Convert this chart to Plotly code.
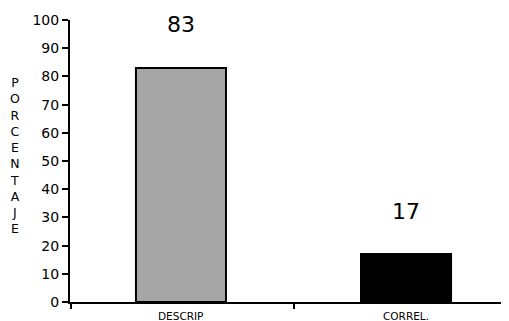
import plotly.graph_objects as go

categories = ["DESCRIP", "CORREL."]
values = [83, 17]
colors = ["#A6A6A6", "#000000"]
y_title = "PORCENTAJE"
y_ticks = list(range(0, 101, 10))

xpos = list(range(len(categories)))
FONT = "DejaVu Sans, Verdana, Arial"

fig = go.Figure()
fig.add_trace(go.Bar(
    x=xpos, y=values, width=0.4,
    marker=dict(color=colors, line=dict(color="#000000", width=2)),
    showlegend=False, hoverinfo="skip",
))

for i, (c, v) in enumerate(zip(categories, values)):
    fig.add_annotation(x=i, y=v, text=str(v), showarrow=False, yshift=43,
                       yanchor="middle",
                       font=dict(size=22, color="#000000", family=FONT))
    fig.add_annotation(x=i, y=0, text=c, showarrow=False, yshift=-14,
                       yanchor="middle",
                       font=dict(size=10.5, color="#000000", family=FONT))

fig.add_annotation(xref="paper", yref="paper", x=-0.1256, y=0.518,
                   text="<br>".join(list(y_title)), showarrow=False,
                   xanchor="center", yanchor="middle", align="center",
                   font=dict(size=12.5, color="#000000", family=FONT))

# page body has an 8px margin, so the figure is shrunk by 8px to fit the window
fig.update_layout(
    width=501, height=313,
    margin=dict(l=62, r=1, t=12, b=19),
    paper_bgcolor="white", plot_bgcolor="white",
    font=dict(family=FONT, color="#000000"),
    xaxis=dict(range=[-0.493, 1.453], tickvals=[-0.49, 0.5], ticktext=["", ""],
               ticks="outside", ticklen=5, tickwidth=2, tickcolor="#000000",
               showline=True, linecolor="#000000", linewidth=2,
               showgrid=False, zeroline=False, fixedrange=True),
    yaxis=dict(range=[0, 100], tickvals=y_ticks,
               ticks="outside", ticklen=6, tickwidth=2, tickcolor="#000000",
               showline=True, linecolor="#000000", linewidth=2,
               showgrid=False, zeroline=False,
               tickfont=dict(size=14, color="#000000")),
)

fig.write_html("out.html")
